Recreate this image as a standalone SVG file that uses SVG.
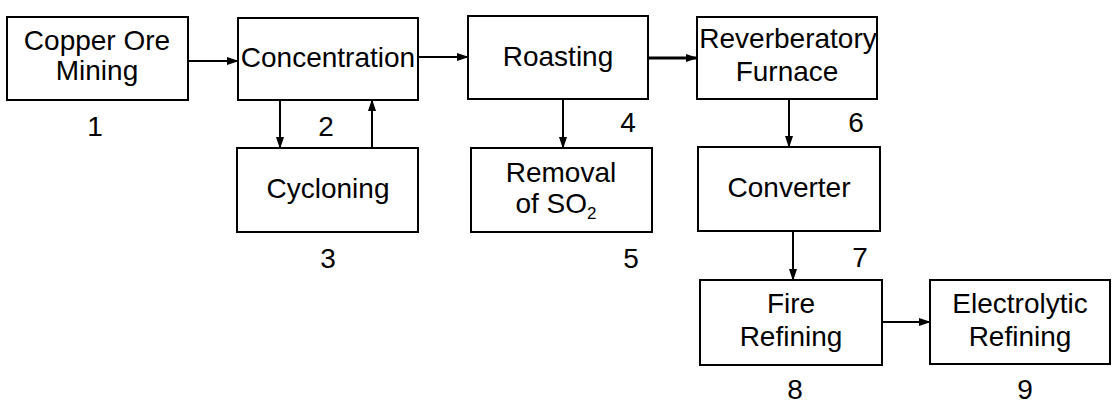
<svg xmlns="http://www.w3.org/2000/svg" width="1115" height="415" viewBox="0 0 1115 415">
<style>
.box{fill:#fff;stroke:#000;stroke-width:2}
.t{font-family:"Liberation Sans",Arial,sans-serif;font-size:28px;fill:#000;text-anchor:middle}
.c{stroke:#000;stroke-width:2;fill:none;marker-end:url(#ah)}
</style>
<defs>
<marker id="ah" viewBox="0 0 12 10" refX="11" refY="5" markerWidth="12" markerHeight="10" markerUnits="userSpaceOnUse" orient="auto">
<path d="M0,1 L12,5 L0,9 z" fill="#000"/>
</marker>
</defs>
<rect width="1115" height="415" fill="#fff"/>
<g id="connectors">
<line class="c" x1="188" y1="61" x2="238" y2="61"/>
<line class="c" x1="418" y1="57" x2="468" y2="57"/>
<line class="c" x1="648" y1="58" x2="697" y2="58" style="stroke-width:3"/>
<line class="c" x1="280" y1="100" x2="280" y2="148"/>
<line class="c" x1="372" y1="148" x2="372" y2="100"/>
<line class="c" x1="563" y1="99" x2="563" y2="148"/>
<line class="c" x1="789" y1="99" x2="789" y2="147"/>
<line class="c" x1="793" y1="231" x2="793" y2="280"/>
<line class="c" x1="882" y1="322" x2="930" y2="322"/>
</g>
<g id="n1"><rect class="box" x="7" y="17" width="181" height="83"/><text class="t" x="97" y="50">Copper Ore</text><text class="t" x="97" y="80">Mining</text><text class="t" x="95" y="136">1</text></g>
<g id="n2"><rect class="box" x="238" y="18" width="180" height="82"/><text class="t" x="328" y="67">Concentration</text><text class="t" x="326" y="136">2</text></g>
<g id="n3"><rect class="box" x="237" y="148" width="181" height="84"/><text class="t" x="328" y="198">Cycloning</text><text class="t" x="328" y="268">3</text></g>
<g id="n4"><rect class="box" x="468" y="16" width="180" height="83"/><text class="t" x="558" y="66">Roasting</text><text class="t" x="628" y="132">4</text></g>
<g id="n5"><rect class="box" x="471" y="148" width="181" height="84"/><text class="t" x="561" y="182">Removal</text><text class="t" x="556" y="213">of SO<tspan font-size="17" dy="6">2</tspan></text><text class="t" x="631" y="268">5</text></g>
<g id="n6"><rect class="box" x="697" y="17" width="180" height="82"/><text class="t" x="788" y="48">Reverberatory</text><text class="t" x="787" y="81">Furnace</text><text class="t" x="856" y="132">6</text></g>
<g id="n7"><rect class="box" x="698" y="147" width="182" height="84"/><text class="t" x="789" y="197">Converter</text><text class="t" x="860" y="267">7</text></g>
<g id="n8"><rect class="box" x="700" y="280" width="182" height="85"/><text class="t" x="791" y="313">Fire</text><text class="t" x="791" y="346">Refining</text><text class="t" x="795" y="399">8</text></g>
<g id="n9"><rect class="box" x="930" y="280" width="180" height="84"/><text class="t" x="1020" y="313">Electrolytic</text><text class="t" x="1020" y="346">Refining</text><text class="t" x="1025" y="399">9</text></g>
</svg>
